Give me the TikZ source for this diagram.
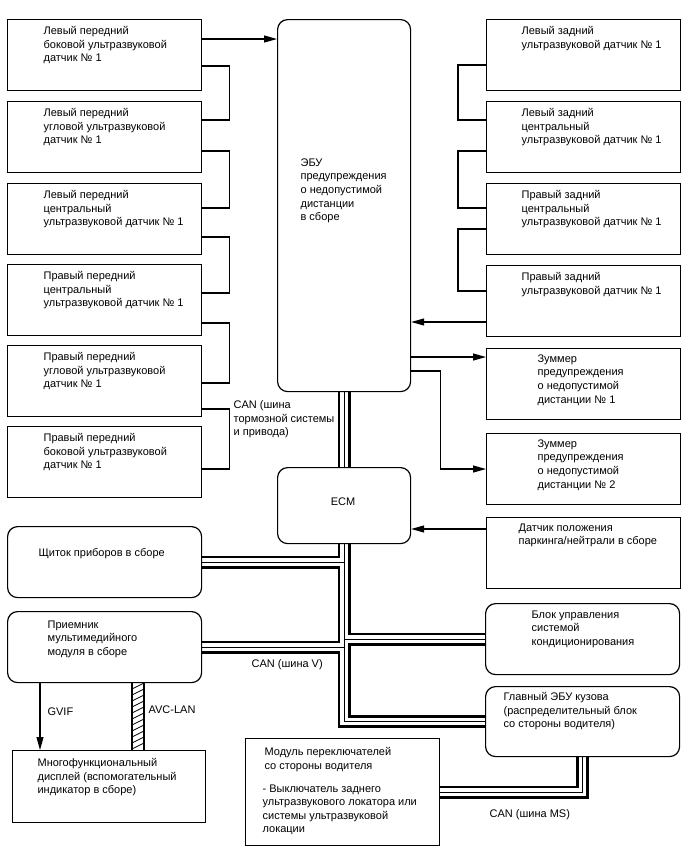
\documentclass[tikz,border=0pt]{standalone}
\usepackage{fontspec}
\setmainfont{Liberation Sans}
\usetikzlibrary{arrows.meta, backgrounds}

\begin{document}
\begin{tikzpicture}[x=1pt, y=-1pt, >={Triangle[length=13pt, width=7pt]}, line width=1.2pt,
    blk/.style={draw, fill=white, inner sep=0pt, anchor=north west, minimum width=194pt, minimum height=71pt},
    rblk/.style={blk, rounded corners=10pt},
    txt/.style={anchor=north west, inner sep=0pt, align=left, font=\fontsize{11}{13.6}\selectfont}]
    \useasboundingbox (0,0) rectangle (688,852);

    % 左列：前传感器
    \node[blk] (lf1) at (7,19)  {};
    \node[blk] (lf2) at (7,101) {};
    \node[blk] (lf3) at (7,183) {};
    \node[blk] (lf4) at (7,264) {};
    \node[blk] (lf5) at (7,345) {};
    \node[blk] (lf6) at (7,426) {};
    \node[txt] (lf1t) at (43,26)  {Левый передний\\боковой ультразвуковой\\датчик № 1};
    \node[txt] (lf2t) at (43,108) {Левый передний\\угловой ультразвуковой\\датчик № 1};
    \node[txt] (lf3t) at (43,190) {Левый передний\\центральный\\ультразвуковой датчик № 1};
    \node[txt] (lf4t) at (43,271) {Правый передний\\центральный\\ультразвуковой датчик № 1};
    \node[txt] (lf5t) at (43,352) {Правый передний\\угловой ультразвуковой\\датчик № 1};
    \node[txt] (lf6t) at (43,433) {Правый передний\\боковой ультразвуковой\\датчик № 1};

    % 右列：后传感器
    \node[blk] (rr1) at (486,19)  {};
    \node[blk] (rr2) at (486,101) {};
    \node[blk] (rr3) at (486,183) {};
    \node[blk] (rr4) at (486,265) {};
    \node[txt] (rr1t) at (521,26)  {Левый задний\\ультразвуковой датчик № 1};
    \node[txt] (rr2t) at (521,108) {Левый задний\\центральный\\ультразвуковой датчик № 1};
    \node[txt] (rr3t) at (521,190) {Правый задний\\центральный\\ультразвуковой датчик № 1};
    \node[txt] (rr4t) at (521,272) {Правый задний\\ультразвуковой датчик № 1};

    % 中间：ECU 和 ECM
    \node[rblk, minimum width=133pt, minimum height=372pt] (ecu) at (277,19) {};
    \node[txt] (ecut) at (300,158) {ЭБУ\\предупреждения\\о недопустимой\\дистанции\\в сборе};
    \node[rblk, minimum width=133pt, minimum height=76pt] (ecm) at (277,467) {};
    \node[font=\fontsize{11}{13.6}\selectfont, inner sep=0pt] (ecmt) at (343,502) {ECM};

    % 蜂鸣器与其它单元
    \node[blk] (bz1) at (486,348) {};
    \node[blk] (bz2) at (486,433) {};
    \node[blk] (pns) at (486,517) {};
    \node[rblk] (ac)  at (485,603) {};
    \node[rblk, minimum height=70pt] (bdy) at (485,686) {};
    \node[txt] (bz1t) at (537,354) {Зуммер\\предупреждения\\о недопустимой\\дистанции № 1};
    \node[txt] (bz2t) at (537,439) {Зуммер\\предупреждения\\о недопустимой\\дистанции № 2};
    \node[txt] (pnst) at (518,523) {Датчик положения\\паркинга/нейтрали в сборе};
    \node[txt] (act)  at (531,610) {Блок управления\\системой\\кондиционирования};
    \node[txt] (bdyt) at (503,692) {Главный ЭБУ кузова\\(распределительный блок\\со стороны водителя)};

    \node[rblk] (shc) at (7,526) {};
    \node[rblk] (rcv) at (7,611) {};
    \node[blk, minimum width=193pt, minimum height=72pt] (dsp) at (12,750) {};
    \node[blk, minimum height=107pt] (sws) at (245,738) {};
    \node[txt] (shct) at (38,548) {Щиток приборов в сборе};
    \node[txt] (rcvt) at (47,620) {Приемник\\мультимедийного\\модуля в сборе};
    \node[txt] (dspt) at (37,758) {Многофункциональный\\дисплей (вспомогательный\\индикатор в сборе)};
    \node[txt] (swst) at (264,747) {Модуль переключателей\\со стороны водителя};
    \node[txt] (swsd) at (262,784) {- Выключатель заднего\\ультразвукового локатора или\\системы ультразвуковой\\локации};

    % 标注
    \node[txt] (canb) at (233,400) {CAN (шина\\тормозной системы\\и привода)};
    \node[txt] (canv) at (251,659) {CAN (шина V)};
    \node[txt] (canm) at (489,809) {CAN (шина MS)};
    \node[txt] (gvif) at (47,707)  {GVIF};
    \node[txt] (avcl) at (148,705) {AVC-LAN};

    % 传感器串联
    \draw ([yshift=-47pt]lf1.north east) -- ++(27,0) |- ([yshift=-19pt]lf2.north east);
    \draw ([yshift=-50pt]lf2.north east) -- ++(27,0) |- ([yshift=-25pt]lf3.north east);
    \draw ([yshift=-54pt]lf3.north east) -- ++(27,0) |- ([yshift=-29pt]lf4.north east);
    \draw ([yshift=-59pt]lf4.north east) -- ++(27,0) |- ([yshift=-38pt]lf5.north east);
    \draw ([yshift=-64pt]lf5.north east) -- ++(27,0) |- ([yshift=-43pt]lf6.north east);
    \draw ([yshift=-46pt]rr1.north west) -- ++(-28,0) |- ([yshift=-19pt]rr2.north west);
    \draw ([yshift=-50pt]rr2.north west) -- ++(-28,0) |- ([yshift=-25pt]rr3.north west);
    \draw ([yshift=-46pt]rr3.north west) -- ++(-28,0) |- ([yshift=-26pt]rr4.north west);

    % 箭头
    \draw[->] ([yshift=-20pt]lf1.north east) -- ([yshift=-20pt]lf1.north east -| ecu.west);
    \draw[->] ([yshift=-57pt]rr4.north west) -- ([yshift=-57pt]rr4.north west -| ecu.east);
    \draw[->] ([yshift=-9pt]bz1.north west -| ecu.east) -- ([yshift=-9pt]bz1.north west);
    \draw[->] ([yshift=-352pt]ecu.north east) -- ++(29,0) |- ([yshift=-36pt]bz2.north west);
    \draw[->] ([yshift=-12pt]pns.north west) -- ([yshift=-12pt]pns.north west -| ecm.east);
    \draw[->] ([xshift=33pt]rcv.south west) -- ([xshift=33pt]rcv.south west |- dsp.north);

    % AVC-LAN 斜线
    \draw ([xshift=125pt]rcv.south west) -- ([xshift=125pt]rcv.south west |- dsp.north);
    \draw ([xshift=137pt]rcv.south west) -- ([xshift=137pt]rcv.south west |- dsp.north);
    \foreach \y in {689,695,...,749}
        \draw[line width=0.8pt] (132,\y) -- (144,\y-6);

    % CAN 总线（三层画法）
    \begin{scope}[on background layer]
        \foreach \w/\c in {13pt/black, 7.5pt/white, 1.2pt/black}
            \draw[line width=\w, \c] (ecu.south) -- (ecm.north)
                (ecm.south) |- (bdy.west)
                (shc.east) -- (shc.east -| ecm.south)
                (rcv.east) -- (rcv.east -| ecm.south)
                (ac.west -| ecm.south) -- (ac.west)
                (bdy.south) |- (sws.east);
    \end{scope}
\end{tikzpicture}
\end{document}
